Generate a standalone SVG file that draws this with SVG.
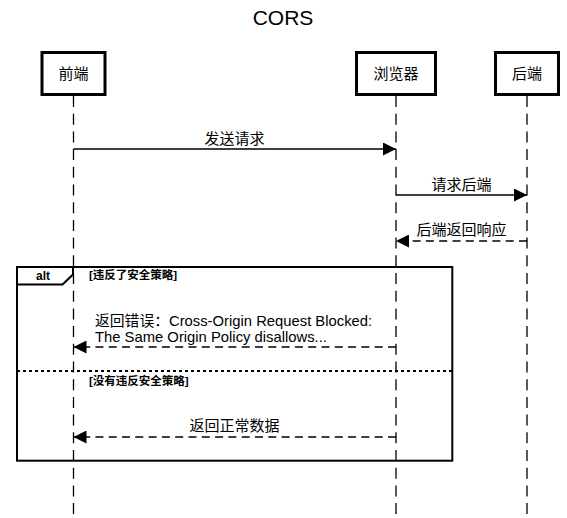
<svg xmlns="http://www.w3.org/2000/svg" width="567" height="518" viewBox="0 0 567 518">
<style>
text{font-family:"Liberation Sans","Noto Sans CJK SC",sans-serif;fill:#000}
.lbl{font-size:15px;text-anchor:middle}
.guard{font-size:11.5px;font-weight:bold}
.box{fill:#fff;stroke:#000;stroke-width:3}
.life{stroke:#000;stroke-width:1.3;stroke-dasharray:11 6.7;fill:none}
.msg{stroke:#000;stroke-width:1.3;fill:none}
.ret{stroke:#000;stroke-width:1.3;fill:none;stroke-dasharray:8 5.3}
</style>
<defs>
<marker id="arr" viewBox="0 0 13 13" refX="13" refY="6.5" markerWidth="13" markerHeight="13" markerUnits="userSpaceOnUse" orient="auto">
<path d="M0,0 L13,6.5 L0,13 z" fill="#000"/>
</marker>
</defs>
<rect width="567" height="518" fill="#fff"/>
<text x="283" y="25" font-size="21" text-anchor="middle">CORS</text>
<g id="lifelines">
<line class="life" x1="73.5" y1="96" x2="73.5" y2="518"/>
<line class="life" x1="396" y1="96" x2="396" y2="518"/>
<line class="life" x1="527" y1="96" x2="527" y2="518"/>
</g>
<g id="frontend">
<rect class="box" x="42" y="52.5" width="63" height="42"/>
<text class="lbl" x="73.5" y="79">前端</text>
</g>
<g id="browser">
<rect class="box" x="356.5" y="52.5" width="79" height="42"/>
<text class="lbl" x="396" y="79">浏览器</text>
</g>
<g id="backend">
<rect class="box" x="495.5" y="52.5" width="63" height="42"/>
<text class="lbl" x="527" y="79">后端</text>
</g>
<g id="alt-frame">
<rect x="17" y="267" width="435.3" height="193.7" fill="none" stroke="#000" stroke-width="2"/>
<path d="M17,267 H73 V274.5 L62.5,284.5 H17" fill="none" stroke="#000" stroke-width="2"/>
<text x="43" y="280" font-size="12" font-weight="bold" text-anchor="middle">alt</text>
<text class="guard" x="89" y="279">[违反了安全策略]</text>
<line x1="17" y1="371" x2="452.3" y2="371" stroke="#000" stroke-width="2" stroke-dasharray="3 3"/>
<text class="guard" x="89" y="385">[没有违反安全策略]</text>
</g>
<g id="connectors">
<line class="msg" x1="73.5" y1="149" x2="396" y2="149" marker-end="url(#arr)"/>
<text class="lbl" x="234.5" y="144">发送请求</text>
<line class="msg" x1="396" y1="195" x2="527" y2="195" marker-end="url(#arr)"/>
<text class="lbl" x="461.5" y="190">请求后端</text>
<line class="ret" x1="527" y1="241" x2="396" y2="241" marker-end="url(#arr)"/>
<text class="lbl" x="461.5" y="235">后端返回响应</text>
<line class="ret" x1="396" y1="347" x2="73.5" y2="347" marker-end="url(#arr)"/>
<text x="95" y="326" font-size="14.8">返回错误：Cross-Origin Request Blocked:</text>
<text x="95" y="342" font-size="14.8">The Same Origin Policy disallows...</text>
<line class="ret" x1="396" y1="437" x2="73.5" y2="437" marker-end="url(#arr)"/>
<text class="lbl" x="234.5" y="431">返回正常数据</text>
</g>
</svg>
